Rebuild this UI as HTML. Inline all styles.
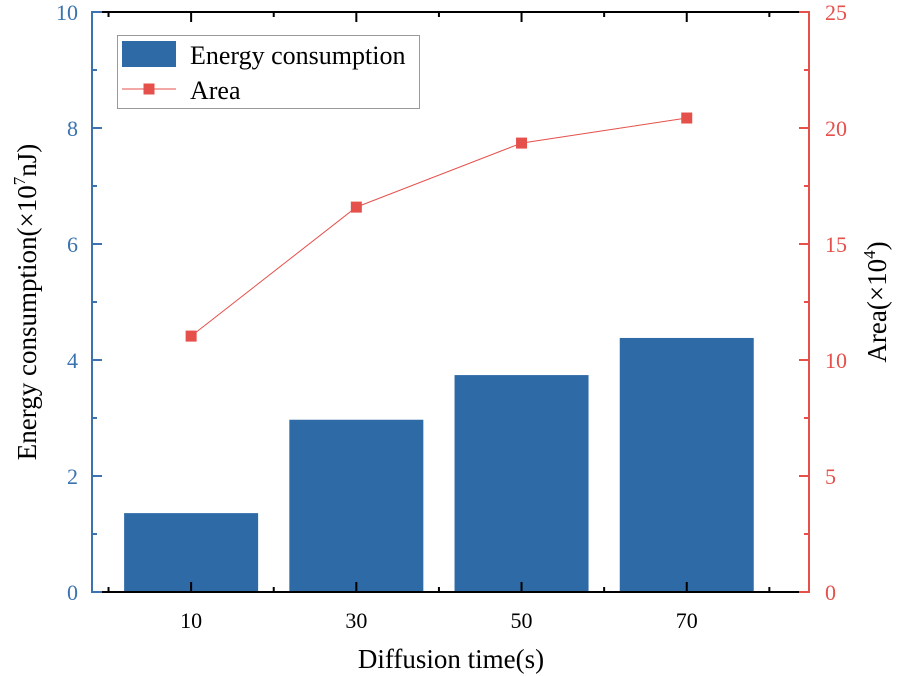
<!DOCTYPE html>
<html><head><meta charset="utf-8"><style>
html,body{margin:0;padding:0;background:#fff;}
svg{display:block;font-family:"Liberation Serif",serif;}
</style></head><body>
<svg id="chart" width="900" height="676" viewBox="0 0 900 676"></svg>
<script>
const categories=["10","30","50","70"];
const energyValues=[1.36,2.97,3.74,4.38];
const areaValues=[11.03,16.59,19.35,20.43];
const leftTicks=[0,2,4,6,8,10];
const rightTicks=[0,5,10,15,20,25];

const L=92,R=809,T=12,B=592;
const BLUE="#2e6aa6",LBLUE="#3a73b0",RED="#e5504b";
const step=(R-L)/4.34;
const xs=i=>L+(i+0.6)*step;
const yl=v=>B-(v/10)*(B-T);
const yr=v=>B-(v/25)*(B-T);
const svg=document.getElementById('chart');
const NS="http://www.w3.org/2000/svg";
function mk(tag,attrs,parent){const e=document.createElementNS(NS,tag);for(const k in attrs)e.setAttribute(k,attrs[k]);(parent||svg).appendChild(e);return e;}

categories.forEach((c,i)=>{
  const b=mk('rect',{x:xs(i)-67,y:yl(energyValues[i]),width:134,height:B-yl(energyValues[i]),fill:BLUE});
  
  
});
const pts=categories.map((c,i)=>xs(i)+','+yr(areaValues[i])).join(' ');
const ln=mk('polyline',{points:pts,fill:'none',stroke:RED,'stroke-width':1});


categories.forEach((c,i)=>{
  const m=mk('rect',{x:xs(i)-5.5,y:yr(areaValues[i])-5.5,width:11,height:11,fill:RED});
  
  
});
const ax=mk('g',{});


mk('line',{x1:L,y1:B,x2:R,y2:B,stroke:'#000','stroke-width':2},ax);
mk('line',{x1:L,y1:T,x2:R,y2:T,stroke:'#000','stroke-width':2},ax);
mk('line',{x1:L,y1:T-1,x2:L,y2:B+1,stroke:LBLUE,'stroke-width':2},ax);
mk('line',{x1:R,y1:T-1,x2:R,y2:B+1,stroke:RED,'stroke-width':2},ax);
for(let k=-1;k<8;k++){
  const x=L+(0.6+k*0.5)*step;
  if(x<=L+2||x>=R-2)continue;
  const len=(k%2===0)?10:5;
  mk('line',{x1:x,y1:B,x2:x,y2:B-len,stroke:'#000','stroke-width':2},ax);
  mk('line',{x1:x,y1:T,x2:x,y2:T+len,stroke:'#000','stroke-width':2},ax);
}
categories.forEach((c,i)=>{
  const t=mk('text',{x:xs(i),y:628,'text-anchor':'middle','font-size':22,fill:'#000'},ax);t.textContent=c;
  
  
});
for(let v=0;v<=10;v++){
  const y=yl(v);const len=(v%2===0)?10:5;
  mk('line',{x1:L,y1:y,x2:L+len,y2:y,stroke:LBLUE,'stroke-width':2},ax);
}
leftTicks.forEach(v=>{
  const t=mk('text',{x:78,y:yl(v)+8,'text-anchor':'end','font-size':22,fill:LBLUE},ax);t.textContent=v;
  
  
});
for(let v=0;v<=25;v+=2.5){
  const y=yr(v);const len=(v%5===0)?10:5;
  mk('line',{x1:R,y1:y,x2:R-len,y2:y,stroke:RED,'stroke-width':2},ax);
}
rightTicks.forEach(v=>{
  const t=mk('text',{x:825,y:yr(v)+8,'text-anchor':'start','font-size':22,fill:RED},ax);t.textContent=v;
  
  
});
</script>
<svg width="900" height="676" style="position:absolute;left:0;top:0;font-family:'Liberation Serif',serif">
<text x="451" y="668" text-anchor="middle" font-size="27">Diffusion time(s)</text>
<text transform="translate(36,302) rotate(-90)" text-anchor="middle" font-size="27">Energy consumption(×10<tspan dy="-11" font-size="17">7</tspan><tspan dy="11">nJ)</tspan></text>
<text transform="translate(886,302) rotate(-90)" text-anchor="middle" font-size="27">Area(×10<tspan dy="-11" font-size="17">4</tspan><tspan dy="11">)</tspan></text>
<g>
<rect x="117.5" y="35.5" width="302" height="73" fill="#fff" stroke="#999" stroke-width="1"/>
<rect x="122" y="41" width="54" height="26" fill="#2e6aa6"/>
<text x="190" y="64" font-size="26">Energy consumption</text>
<line x1="122" y1="89" x2="176" y2="89" stroke="#e5504b" stroke-width="1"/>
<rect x="143.5" y="83.5" width="11" height="11" fill="#e5504b"/>
<text x="190" y="99" font-size="26">Area</text>
</g>
</svg>
</body></html>
